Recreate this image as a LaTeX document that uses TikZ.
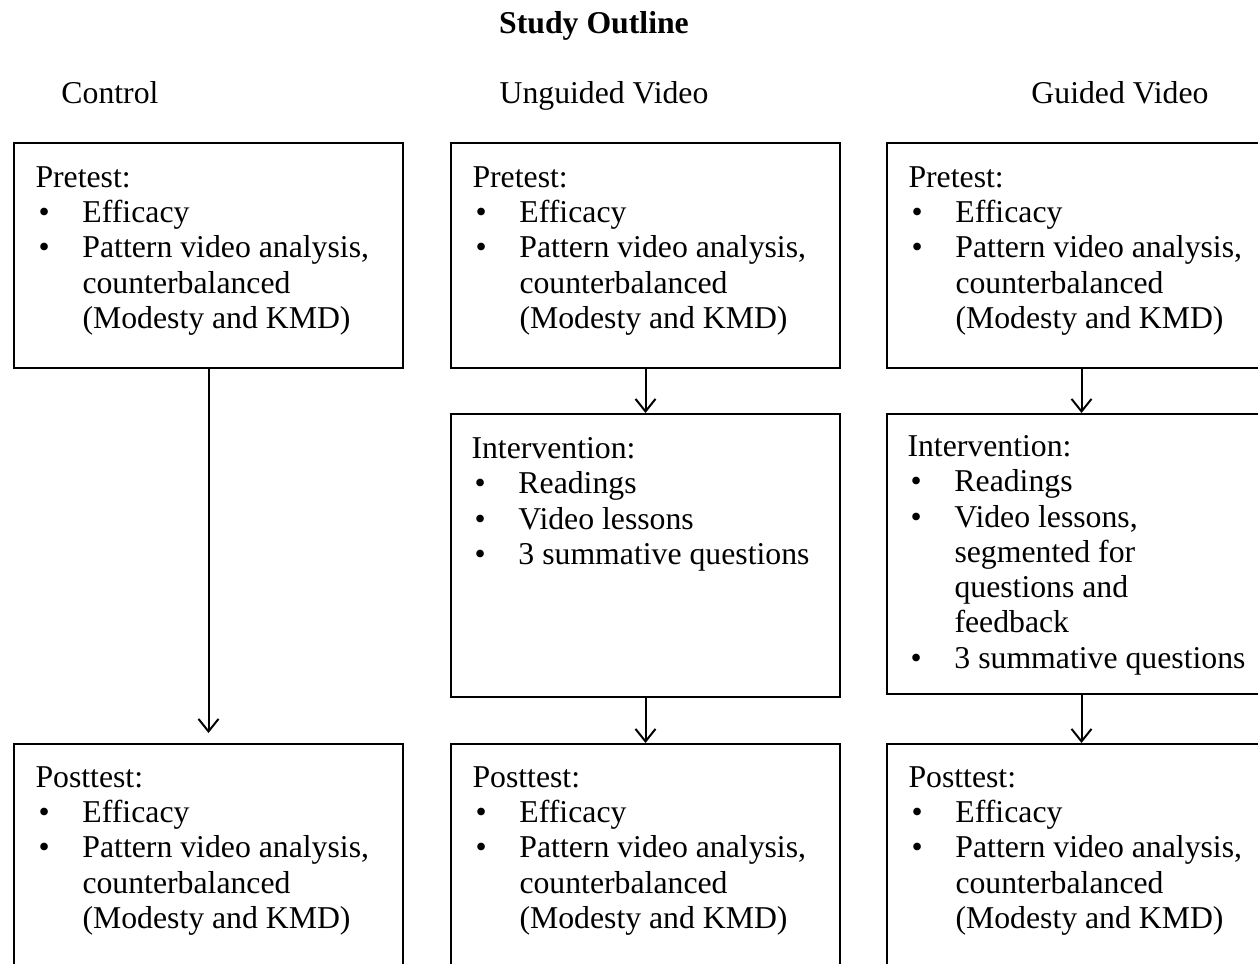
\documentclass[tikz,border=0pt]{standalone}
\usepackage{fontspec}
\setmainfont{Liberation Serif}
\usetikzlibrary{positioning, arrows.meta}

\newcommand{\bl}{\hspace*{1.2pt}\makebox[17.6pt][l]{\textbullet}}
\newcommand{\ct}{\hspace*{18.8pt}}

\begin{document}
\begin{tikzpicture}[x=0.4pt, y=-0.4pt, node distance=17.6pt,
    every node/.style={font=\fontsize{12.7}{14.1}\selectfont},
    box/.style={draw, line width=0.8pt, minimum width=155.6pt, inner sep=0pt},
    txt/.style={inner sep=0pt, align=left},
    arr/.style={-{Straight Barb[length=5pt, width=8pt]}, line width=0.8pt}]
  \useasboundingbox (0,0) rectangle (1258,963);
  \clip (0,0) rectangle (1258,963);
  % headings
  \node[font=\fontsize{12.7}{14.1}\selectfont\bfseries, anchor=base] (title) at (594,33) {Study Outline};
  \node[anchor=base] (hctrl) at (110,103) {Control};
  \node[anchor=base] (hung) at (604,103) {Unguided Video};
  \node[anchor=base] (hgui) at (1120,103) {Guided Video};
  % control
  \node[box, minimum height=90pt, anchor=north west] (pre1) at (13,142) {};
  \node[box, minimum height=104pt, anchor=north west] (post1) at (13,743) {};
  % unguided video
  \node[box, minimum height=90pt, anchor=north west] (pre2) at (450,142) {};
  \node[box, minimum height=113.2pt, below=of pre2] (int2) {};
  \node[box, minimum height=104pt, anchor=north west] (post2) at (450,743) {};
  % guided video
  \node[box, minimum height=90pt, anchor=north west] (pre3) at (886,142) {};
  \node[box, minimum height=112pt, below=of pre3] (int3) {};
  \node[box, minimum height=104pt, anchor=north west] (post3) at (886,743) {};
  % texts
  \foreach \c in {1,2,3} {
    \node[txt, below right=9.6pt and 8.8pt of pre\c.north west] (pre\c t)
      {Pretest:\\ \bl Efficacy\\ \bl Pattern video analysis,\\ \ct counterbalanced\\ \ct (Modesty and KMD)};
    \node[txt, below right=9.2pt and 8.8pt of post\c.north west] (post\c t)
      {Posttest:\\ \bl Efficacy\\ \bl Pattern video analysis,\\ \ct counterbalanced\\ \ct (Modesty and KMD)};
  }
  \node[txt, below right=9.6pt and 8.4pt of int2.north west] (int2t)
    {Intervention:\\ \bl Readings\\ \bl Video lessons\\ \bl 3 summative questions};
  \node[txt, below right=8.8pt and 8.4pt of int3.north west] (int3t)
    {Intervention:\\ \bl Readings\\ \bl Video lessons,\\ \ct segmented for\\ \ct questions and\\ \ct feedback\\ \bl 3 summative questions};
  % arrows
  \draw[arr] (pre1.south) -- ([yshift=4pt]post1.north);
  \draw[arr] (pre2.south) -- (int2.north);
  \draw[arr] (int2.south) -- (post2.north);
  \draw[arr] (pre3.south) -- (int3.north);
  \draw[arr] (int3.south) -- (post3.north);
\end{tikzpicture}
\end{document}
